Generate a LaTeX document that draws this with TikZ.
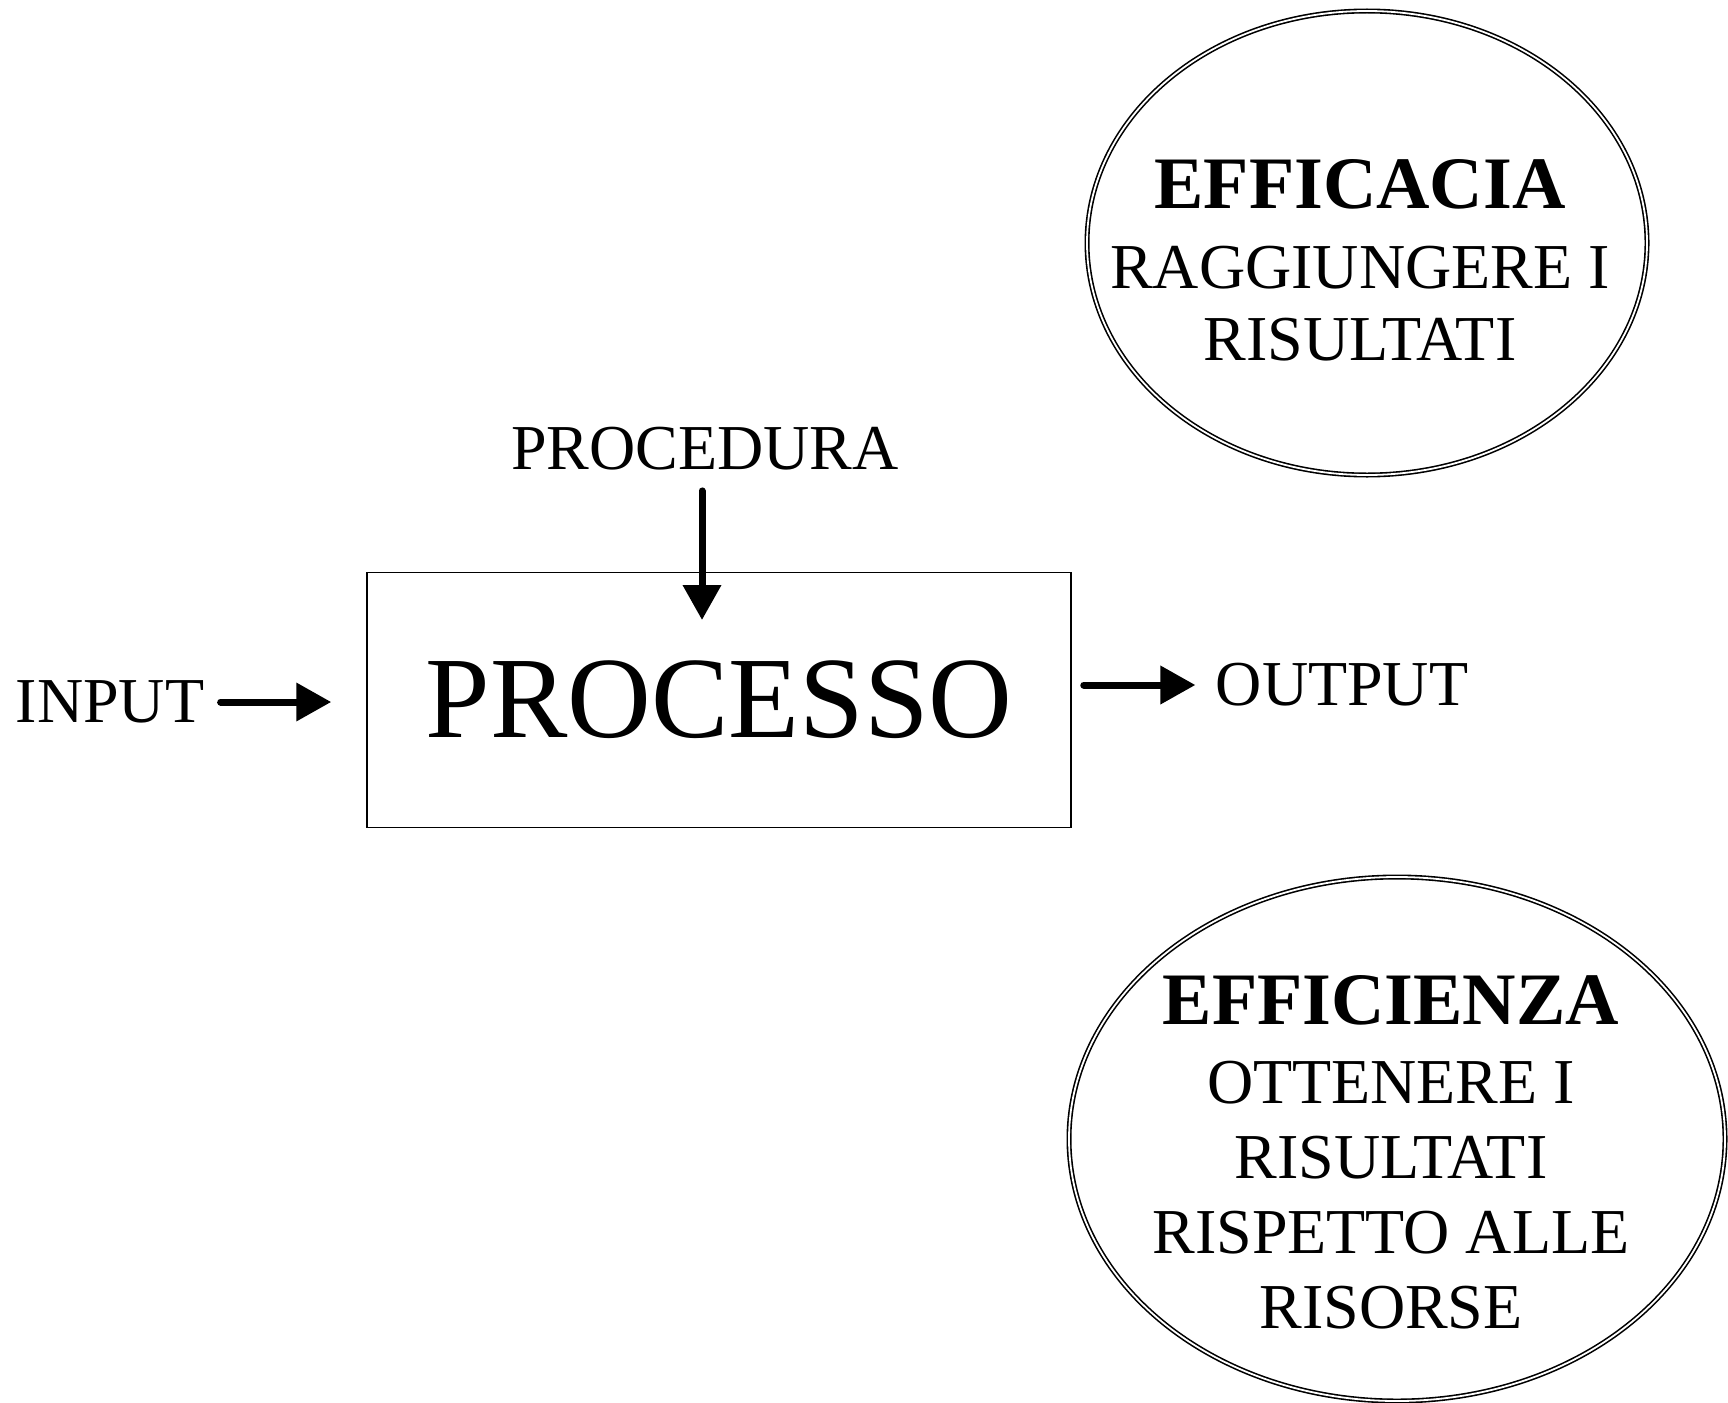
\documentclass[tikz,border=0pt]{standalone}
\usepackage{fontspec}
\setmainfont{Liberation Serif}
\usetikzlibrary{arrows.meta,shapes.geometric}

\begin{document}
\begin{tikzpicture}[x=0.5pt,y=0.5pt,
    link/.style={line width=3.5pt, line cap=round, -{Triangle[length=17.5pt,width=18.5pt]}},
    oval/.style={ellipse, draw, double, line width=0.8pt, double distance=0.9pt, inner sep=0pt},
    txt/.style={inner sep=0pt, font=\fontsize{32}{36}\selectfont}]
    \useasboundingbox (0,0) rectangle (1728,-1402);

    % Process box
    \node[draw, line width=0.75pt, minimum width=352pt, minimum height=127.5pt, inner sep=0pt,
          font=\fontsize{58}{60}\selectfont] (processo) at (719,-700) {PROCESSO};

    % Labels round the box
    \node[txt] (input) at (110,-702) {INPUT};
    \node[txt] (procedura) at (705,-449) {PROCEDURA};
    \node[txt] (output) at (1342,-685) {OUTPUT};
    \coordinate (tip) at (702,-620);

    % Arrows
    \draw[link, shorten <=8pt, shorten >=17.5pt] (input.east) -- (processo.west |- input);
    \draw[link, shorten <=10pt] (procedura.south -| tip) -- (tip);
    \draw[link, shorten <=6pt, shorten >=10pt] (processo.east |- output) -- (output.west);

    % Efficacia
    \node[oval, minimum width=280pt, minimum height=232pt] (efficacia) at (1367,-243) {};
    \node[txt, align=center] at (1360,-260)
        {{\fontsize{37}{40}\selectfont\bfseries EFFICACIA}\\[4pt] RAGGIUNGERE I\\ RISULTATI};

    % Efficienza
    \node[oval, minimum width=328pt, minimum height=262pt] (efficienza) at (1397,-1139) {};
    \node[txt, align=center, font=\fontsize{32}{37.5}\selectfont] at (1391,-1152)
        {{\fontsize{37}{40}\selectfont\bfseries EFFICIENZA}\\[2pt] OTTENERE I\\ RISULTATI\\ RISPETTO ALLE\\ RISORSE};
\end{tikzpicture}
\end{document}
